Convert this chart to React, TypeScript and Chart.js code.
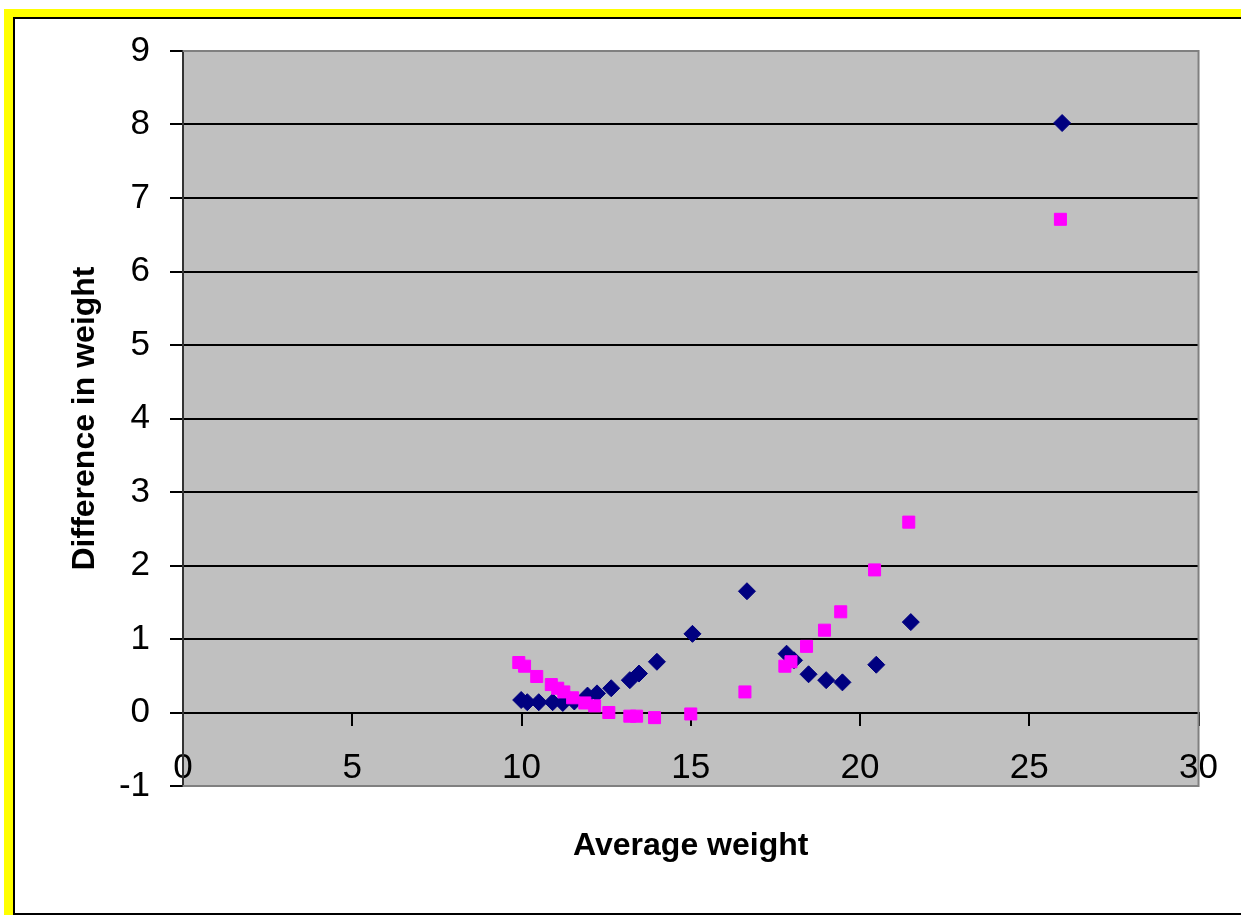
import React, { useEffect, useRef } from "react";
import { Chart, registerables } from "chart.js";

Chart.register(...registerables);

// Series 1 (navy diamonds)
const avgWeightA = [9.99, 10.17, 10.51, 10.92, 11.22, 11.56, 11.95, 12.23, 12.65, 13.2, 13.47, 14.0, 15.05, 16.66, 17.83, 18.05, 18.48, 19.0, 19.48, 20.48, 21.5, 25.97];
const diffA = [0.17, 0.14, 0.14, 0.14, 0.13, 0.15, 0.23, 0.26, 0.33, 0.44, 0.53, 0.69, 1.07, 1.65, 0.8, 0.71, 0.52, 0.44, 0.41, 0.65, 1.23, 8.02];

// Series 2 (magenta squares)
const avgWeightB = [9.92, 10.09, 10.45, 10.88, 11.07, 11.25, 11.51, 11.87, 12.16, 12.58, 13.2, 13.4, 13.93, 15.0, 16.6, 17.78, 17.96, 18.42, 18.95, 19.43, 20.43, 21.44, 25.92];
const diffB = [0.68, 0.63, 0.49, 0.38, 0.33, 0.28, 0.2, 0.13, 0.09, 0.0, -0.05, -0.05, -0.07, -0.02, 0.28, 0.63, 0.69, 0.9, 1.12, 1.37, 1.94, 2.59, 6.71];

const xTitle = "Average weight";
const yTitle = "Difference in weight";

const FONT = "'Liberation Sans', Arial, sans-serif";

const plotArea = {
  id: "plotArea",
  beforeDraw(chart: any) {
    const { ctx, chartArea: a } = chart;
    ctx.save();
    ctx.fillStyle = "#C0C0C0";
    ctx.fillRect(a.left, a.top, a.right - a.left, a.bottom - a.top);
    ctx.restore();
  },
  beforeDatasetsDraw(chart: any) {
    const { ctx, chartArea: a } = chart;
    ctx.save();
    ctx.strokeStyle = "#808080";
    ctx.lineWidth = 2;
    ctx.beginPath();
    ctx.moveTo(a.left, a.top);
    ctx.lineTo(a.right, a.top);
    ctx.lineTo(a.right, a.bottom);
    ctx.lineTo(a.left, a.bottom);
    ctx.stroke();
    ctx.restore();
  },
};

export default function App() {
  const ref = useRef<HTMLCanvasElement | null>(null);

  useEffect(() => {
    if (!ref.current) return;
    const chart = new Chart(ref.current, {
      type: "scatter",
      data: {
        datasets: [
          {
            label: "A",
            data: avgWeightA.map((x, i) => ({ x, y: diffA[i] })),
            pointStyle: "rectRot",
            pointRadius: 8.5,
            pointBorderWidth: 1,
            backgroundColor: "#000080",
            borderColor: "#000080",
            xAxisID: "x",
            yAxisID: "y",
            order: 2,
          },
          {
            label: "B",
            data: avgWeightB.map((x, i) => ({ x, y: diffB[i] })),
            pointStyle: "rect",
            pointRadius: 8.5,
            pointBorderWidth: 1,
            backgroundColor: "#FF00FF",
            borderColor: "#FF00FF",
            xAxisID: "x",
            yAxisID: "y",
            order: 1,
          },
        ],
      },
      options: {
        animation: false,
        responsive: false,
        layout: { padding: { left: 0, top: 51, right: 41, bottom: 0 } },
        plugins: { legend: { display: false }, tooltip: { enabled: false } },
        scales: {
          x: {
            type: "linear",
            position: "bottom",
            min: 0,
            max: 30,
            ticks: { display: false, stepSize: 5 },
            grid: { display: false, drawTicks: false },
            border: { display: false },
            title: {
              display: true,
              text: xTitle,
              color: "#000",
              font: { family: FONT, size: 32, weight: "bold" },
              padding: { top: 40.6, bottom: 50 },
            },
          },
          x0: {
            type: "linear",
            axis: "x",
            position: { y: 0 },
            min: 0,
            max: 30,
            ticks: {
              stepSize: 5,
              autoSkip: false,
              maxRotation: 0,
              color: "#000",
              padding: 23,
              font: { family: FONT, size: 35 },
            },
            grid: {
              display: true,
              drawOnChartArea: false,
              drawTicks: true,
              tickLength: 12,
              tickColor: "#000",
              tickWidth: 2,
              lineWidth: 2,
            },
            border: { display: true, color: "#000", width: 2 },
            afterFit: (s: any) => {
              s.height = 0;
            },
          },
          y: {
            type: "linear",
            position: "left",
            min: -1,
            max: 9,
            ticks: {
              stepSize: 1,
              color: "#000",
              padding: 20,
              font: { family: FONT, size: 35 },
            },
            grid: {
              color: (c: any) =>
                c.tick && (c.tick.value === 9 || c.tick.value === -1) ? "rgba(0,0,0,0)" : "#000",
              lineWidth: 2,
              tickLength: 13,
              tickColor: "#000",
              tickWidth: 2,
            },
            border: { display: true, color: "#333", width: 2 },
            title: {
              display: true,
              text: yTitle,
              color: "#000",
              font: { family: FONT, size: 32, weight: "bold" },
              padding: { top: 66, bottom: 0 },
            },
            afterFit: (s: any) => {
              s.width = 183;
            },
          },
        },
      } as any,
      plugins: [plotArea],
    });
    return () => chart.destroy();
  }, []);

  return (
    <div
      style={{
        position: "fixed",
        left: 0,
        top: 0,
        width: 1241,
        height: 915,
        overflow: "hidden",
        background: "#fff",
      }}
    >
      <div style={{ position: "absolute", left: 4, top: 9, width: 1400, height: 1000, background: "#FFFF00" }} />
      <div
        style={{
          position: "absolute",
          left: 13,
          top: 17,
          width: 1400,
          height: 894,
          border: "2px solid #000",
          background: "#fff",
        }}
      />
      <canvas ref={ref} width={1241} height={915} style={{ position: "absolute", left: 0, top: 0 }} />
    </div>
  );
}
